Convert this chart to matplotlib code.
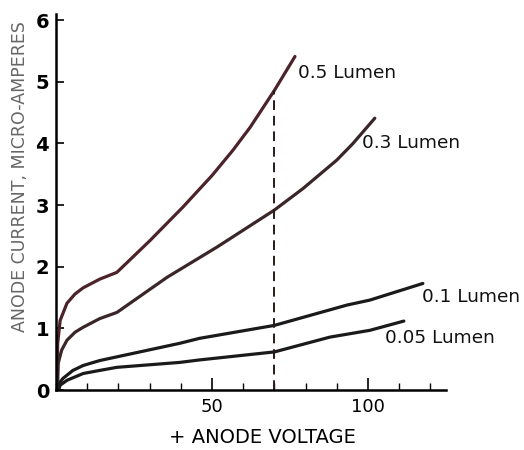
import matplotlib.pyplot as plt
from matplotlib.ticker import MultipleLocator

# Anode current (micro-amperes) vs + anode voltage, four light levels
volts_05 = [0.4, 0.5, 1.3, 3.5, 6.1, 8.7, 14, 19.5, 30, 40.7, 50, 56.7, 62.2, 70, 76.6]
amps_05 = [0.1, 0.75, 1.13, 1.41, 1.56, 1.66, 1.8, 1.91, 2.42, 2.97, 3.48, 3.89, 4.26, 4.86, 5.41]

volts_03 = [0.5, 0.7, 1.8, 3.5, 6.1, 8.7, 14, 19.5, 35.6, 51.6, 70, 79.2, 90, 95.2, 102.2]
amps_03 = [0.08, 0.44, 0.65, 0.81, 0.94, 1.02, 1.16, 1.26, 1.83, 2.32, 2.92, 3.27, 3.73, 4.0, 4.41]

volts_01 = [0.8, 1.3, 2.2, 5.4, 8.7, 14, 19.5, 39.7, 46, 70, 93.3, 100.6, 117.6]
amps_01 = [0.03, 0.13, 0.19, 0.32, 0.4, 0.48, 0.54, 0.76, 0.84, 1.05, 1.38, 1.46, 1.73]

volts_005 = [1.0, 1.3, 3.5, 8.7, 14, 19.5, 39.7, 46, 70, 87.8, 100.6, 111.5]
amps_005 = [0.03, 0.08, 0.16, 0.27, 0.32, 0.37, 0.45, 0.49, 0.62, 0.86, 0.97, 1.12]

labels = ["0.5 Lumen", "0.3 Lumen", "0.1 Lumen", "0.05 Lumen"]
label_pos = [(77.6, 5.15), (98.1, 4.0), (117.3, 1.51), (105.4, 0.84)]
colores = ["#4b2329", "#3a2628", "#1a1a1a", "#1a1a1a"]

marker_v = 70

fig = plt.figure(figsize=(5.24, 4.5), dpi=100)
ax = fig.add_axes([0.107, 0.133, 0.744, 0.836])

curvas = [(volts_05, amps_05), (volts_03, amps_03), (volts_01, amps_01), (volts_005, amps_005)]
for (x, y), c in zip(curvas, colores):
    ax.plot(x, y, color=c, lw=2.3, solid_capstyle="round", solid_joinstyle="round")

# linea punteada hasta la curva de 0.5 lumen
ax.plot([marker_v, marker_v], [0, amps_05[volts_05.index(marker_v)]],
        color="#2a1a1a", lw=1.4, dashes=(5, 3))

for txt, (x, y) in zip(labels, label_pos):
    ax.text(x, y, txt, fontsize=13.3, va="center", ha="left", color="#111111")

ax.set_xlim(0, 125)
ax.set_ylim(0, 6.1)
for s in ["top", "right"]:
    ax.spines[s].set_visible(False)
ax.spines["left"].set_linewidth(1.8)
ax.spines["bottom"].set_linewidth(1.8)

ax.set_yticks(range(7))
ax.set_xticks([50, 100])
ax.xaxis.set_minor_locator(MultipleLocator(10))
ax.tick_params(axis="y", direction="in", length=6, width=1.2, labelsize=14, pad=5)
ax.tick_params(axis="x", which="major", direction="in", length=9, width=1.2, labelsize=13, pad=6)
ax.tick_params(axis="x", which="minor", direction="in", length=5, width=1.0)
for t in ax.get_yticklabels():
    t.set_fontweight("bold")

ax.set_ylabel("ANODE CURRENT, MICRO-AMPERES", fontsize=12.5, color="#666666", va="center")
ax.yaxis.set_label_coords(-0.092, 0.569)
ax.set_xlabel("+ ANODE VOLTAGE", fontsize=14, va="center")
ax.xaxis.set_label_coords(0.53, -0.125)

fig.savefig("out.png", dpi=100)
